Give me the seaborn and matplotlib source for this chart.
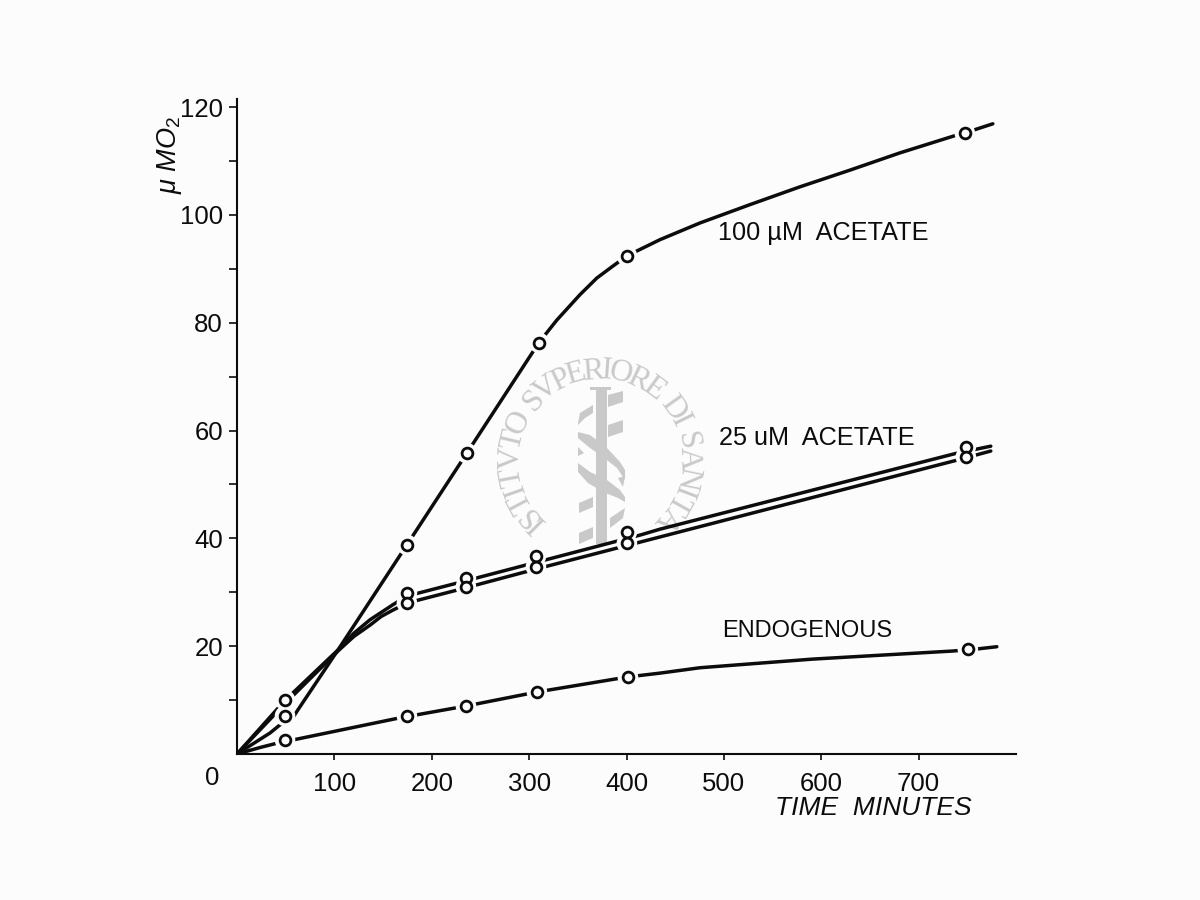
import matplotlib
matplotlib.use("Agg")
import numpy as np
import matplotlib.pyplot as plt
import seaborn as sns
from matplotlib.patches import Polygon, Rectangle
from matplotlib.textpath import TextPath
from matplotlib.font_manager import FontProperties

# ---------- curve traces (minutes, uM O2) ----------
acetate100_t = [0, 33.9, 44.1, 56.5, 62.6, 85.2, 103.7, 174.5, 236, 310, 328.5, 352.2, 369.6, 386, 400.4,
                434.3, 475.4, 526.7, 578, 629.4, 680.7, 737.2, 747.4, 776.2]
acetate100_y = [0, 3.9, 5.4, 6.5, 8.2, 14.3, 19.3, 38.8, 55.8, 76.3, 80.5, 85.2, 88.3, 90.5, 92.4,
                95.4, 98.5, 101.9, 105.2, 108.3, 111.5, 114.7, 115.2, 116.9]
acetate25a_t = [0, 49.3, 103.7, 120, 136.6, 160.2, 174.5, 225.9, 413.8, 434.3, 739.2, 774.1]
acetate25a_y = [0, 9.95, 19.3, 22.4, 24.9, 27.7, 29.3, 31.7, 40.6, 41.7, 55.8, 57.1]
acetate25b_t = [0, 49.3, 103.7, 120, 136.6, 148, 160.2, 174.5, 225.9, 307, 413.8, 739.2, 774.1]
acetate25b_y = [0, 9.35, 19.1, 21.8, 23.9, 25.5, 26.7, 28.0, 30.4, 34.3, 39.3, 54.5, 56.2]
endog_t = [0, 23.6, 41, 49.3, 62.6, 167, 235.1, 308, 401.4, 434.3, 475.4, 591, 735, 760.8, 780.3]
endog_y = [0, 1.2, 2.0, 2.3, 2.8, 6.7, 8.9, 11.5, 14.3, 15.0, 16.0, 17.6, 19.1, 19.5, 19.9]

# ---------- measured points ----------
pts100_t = [49.3, 174.5, 236, 310, 400.4, 747.4]
pts100_y = [7.05, 38.8, 55.8, 76.3, 92.4, 115.2]
pts25a_t = [49.3, 174.5, 235.1, 307, 400.4, 748.5]
pts25a_y = [10.0, 29.9, 32.7, 36.7, 41.2, 57.0]
pts25b_t = [174.5, 235.1, 307, 400.4, 748.5]
pts25b_y = [28.0, 31.0, 34.7, 39.1, 55.1]
ptsend_t = [49.3, 174.5, 235.1, 308, 401.4, 750.5]
ptsend_y = [2.6, 7.05, 8.9, 11.5, 14.3, 19.5]

x_ticks = [100, 200, 300, 400, 500, 600, 700]
y_major = [20, 40, 60, 80, 100, 120]
y_minor = [10, 30, 50, 70, 90, 110]
curve_labels = ["100 µM  ACETATE", "25 uM  ACETATE", "ENDOGENOUS"]
x_title = "TIME  MINUTES"
watermark = "ISTITVTO SVPERIORE DI SANITA"

BG = "#fdfcfd"
INK = "#0c0c0c"
WM = "#c9c9c9"
W, H = 1200, 900

sns.set_theme(style="white")
plt.rcParams["font.family"] = ["Liberation Sans", "DejaVu Sans"]
plt.rcParams["mathtext.fontset"] = "custom"
plt.rcParams["mathtext.it"] = "Liberation Sans:italic"
plt.rcParams["mathtext.rm"] = "Liberation Sans"

fig = plt.figure(figsize=(12, 9), dpi=100, facecolor=BG)

# ---------- watermark layer in pixel coordinates ----------
bgax = fig.add_axes([0, 0, 1, 1], zorder=0)
bgax.set_xlim(0, W)
bgax.set_ylim(H, 0)
bgax.axis("off")
shapes = [
    [(590, 387), (611, 387), (611, 390), (590, 390)],
    [(608, 395), (623, 391), (623, 402), (608, 407)],
    [(608, 425), (623, 420), (623, 432), (608, 437)],
    [(578, 423), (580, 413), (593, 405), (593, 413), (585, 418), (578, 425)],
    [(579, 503), (593, 497), (593, 507), (579, 513)],
    [(579, 533), (593, 527), (593, 538), (579, 544)],
    [(610, 518), (625, 508), (623, 518), (610, 528)],
    [(578, 432), (590, 435), (607, 448), (620, 462), (625, 470), (625, 480), (617, 468), (603, 457), (590, 448), (578, 438)],
    [(578, 463), (590, 472), (607, 480), (620, 490), (625, 497), (625, 502), (618, 498), (603, 492), (588, 483), (578, 472)],
    [(578, 447), (584, 453), (578, 456)],
    [(618, 478), (625, 476), (623, 487)],
]
bgax.add_patch(Rectangle((596, 388), 11, 156, color=WM, lw=0))
for s in shapes:
    bgax.add_patch(Polygon(s, closed=True, color=WM, lw=0))

fp = FontProperties(family="Liberation Serif", size=23)
widths = [TextPath((0, 0), c, prop=fp).get_extents().width if c != " " else 7 for c in watermark]
widths = np.array(widths) + 2.5
cum = np.cumsum(widths) - widths / 2
ang = -138 + 276 * cum / widths.sum()
cx, cy, rad = 600, 460, 89
for c, a in zip(watermark, ang):
    r = np.radians(a)
    bgax.text(cx + rad * np.sin(r), cy - rad * np.cos(r), c, rotation=-a, rotation_mode="anchor",
              ha="center", va="center", fontproperties=fp, color=WM)

# ---------- main chart ----------
ax = fig.add_axes([237 / W, (H - 754) / H, 779 / W, 655 / H], zorder=1, facecolor="none")
LW = 2.5
for t, y in [(acetate100_t, acetate100_y), (acetate25a_t, acetate25a_y),
             (acetate25b_t, acetate25b_y), (endog_t, endog_y)]:
    sns.lineplot(x=t, y=y, ax=ax, color=INK, lw=LW, estimator=None, sort=False, legend=False,
                 solid_joinstyle="round", solid_capstyle="round", zorder=2)
all_t = pts100_t + pts25a_t + pts25b_t + ptsend_t
all_y = pts100_y + pts25a_y + pts25b_y + ptsend_y
sns.scatterplot(x=all_t, y=all_y, ax=ax, s=220, color=BG, edgecolor="none", linewidth=0, legend=False, zorder=3)
sns.scatterplot(x=all_t, y=all_y, ax=ax, s=60, facecolor=BG, edgecolor=INK, linewidth=2.0, legend=False, zorder=4)

ax.set_xlim(0, 800)
ax.set_ylim(0, 121.5)
for side in ("top", "right"):
    ax.spines[side].set_visible(False)
for side in ("left", "bottom"):
    ax.spines[side].set_linewidth(1.5)
    ax.spines[side].set_color(INK)
ax.set_xticks(x_ticks)
ax.set_yticks(y_major)
ax.set_yticks(y_minor, minor=True)
ax.tick_params(axis="x", which="major", bottom=True, direction="out", length=4, width=1.2, color=INK,
               labelsize=18.5, labelcolor=INK, pad=9)
ax.tick_params(axis="y", which="both", left=True, direction="out", length=6, width=1.2, color=INK,
               labelsize=18.5, labelcolor=INK, pad=4)
ax.grid(False)

def T(px, py, s, **kw):
    fig.text(px / W, 1 - py / H, s, color=INK, **kw)

T(212, 778, "0", fontsize=18.5, ha="center", va="center")
T(718, 233, curve_labels[0], fontsize=18.2, ha="left", va="center")
T(719, 438, curve_labels[1], fontsize=18.2, ha="left", va="center")
T(722, 631, curve_labels[2], fontsize=17, ha="left", va="center")
T(873, 808, x_title, fontsize=19, style="italic", ha="center", va="center")
T(169, 155, r"$\mu\ MO_2$", fontsize=19.5, rotation=90, ha="center", va="center")

fig.savefig("out.png", dpi=100, facecolor=BG)
